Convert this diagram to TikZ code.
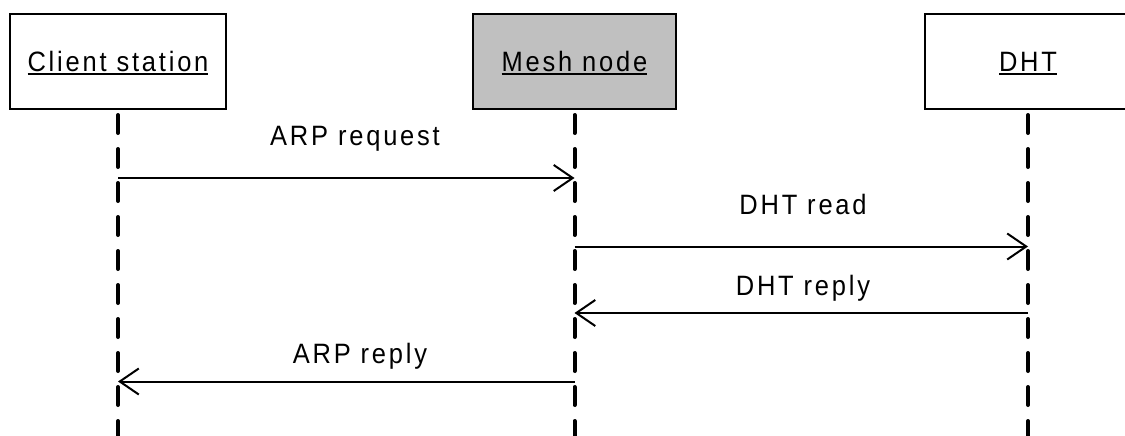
\documentclass[tikz,border=0pt]{standalone}
\usepackage{fontspec}
\setmainfont{Liberation Sans}[LetterSpace=10, FakeStretch=0.91]
\usetikzlibrary{arrows.meta}
\definecolor{boxgray}{HTML}{C0C0C0}
% underlined object name with a thick rule under the baseline
\newcommand\objname[1]{\setbox0\hbox{#1}\rlap{\raisebox{-3.5pt}{\rule{\wd0}{2pt}}}\box0}
\begin{document}
\begin{tikzpicture}[x=1pt,y=-1pt,
  font=\fontsize{28}{32}\selectfont,
  actor/.style={draw, line width=2pt, minimum height=95pt, inner sep=0pt, text depth=0pt},
  lifeline/.style={line width=4pt, line cap=round, dash pattern=on 18pt off 16pt, dash phase=29pt},
  msg/.style={line width=2pt, -{Straight Barb[length=19pt,width=26pt,line width=2pt]}},
  msglabel/.style={inner sep=0pt, anchor=base}]
  \useasboundingbox (0,0) rectangle (1125,436);

  % objects
  \node[actor, minimum width=216pt] (cs) at (118,61.5) {\objname{Client station}};
  \node[actor, minimum width=203pt, fill=boxgray] (mn) at (574.5,61.5) {\objname{Mesh node}};
  \node[actor, minimum width=206pt] (dht) at (1028,61.5) {\objname{DHT}};

  % lifelines
  \coordinate (cs-end) at (cs.south |- 0,440);
  \coordinate (mn-end) at (mn.south |- 0,440);
  \coordinate (dht-end) at (dht.south |- 0,440);
  \draw[lifeline] (cs.south) -- (cs-end);
  \draw[lifeline] (mn.south) -- (mn-end);
  \draw[lifeline] (dht.south) -- (dht-end);

  % messages
  \draw[msg] (cs.south |- 0,178) -- (mn.south |- 0,178);
  \node[msglabel] (l1) at (355,145) {ARP request};

  \draw[msg] (mn.south |- 0,246.5) -- (dht.south |- 0,246.5);
  \node[msglabel] (l2) at (803,214) {DHT read};

  \draw[msg] (dht.south |- 0,313) -- (mn.south |- 0,313);
  \node[msglabel] (l3) at (803,295) {DHT reply};

  \draw[msg] (mn.south |- 0,381.5) -- (cs.south |- 0,381.5);
  \node[msglabel] (l4) at (360,363) {ARP reply};
\end{tikzpicture}
\end{document}
